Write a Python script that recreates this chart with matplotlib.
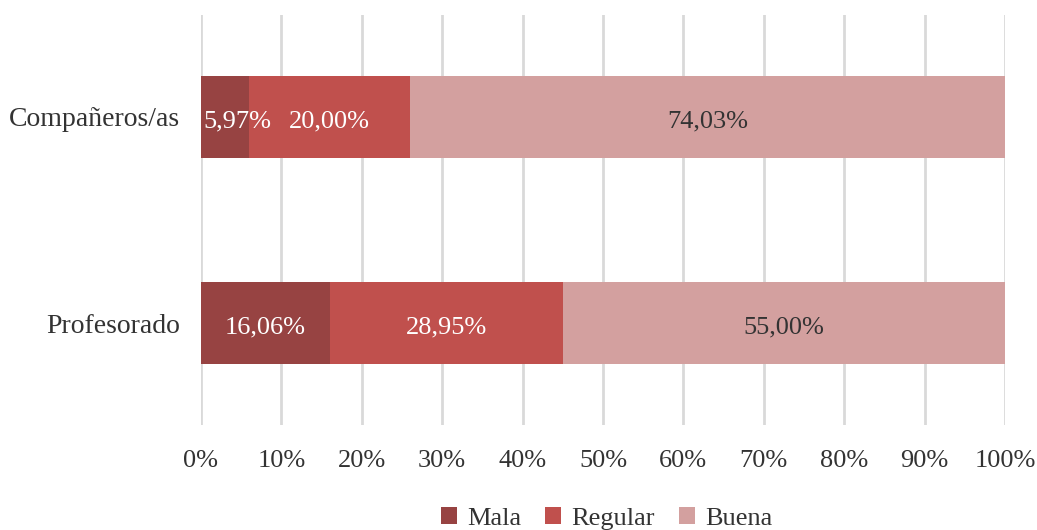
import matplotlib.pyplot as plt
import numpy as np

plt.rcParams['font.family'] = ['Liberation Serif', 'DejaVu Serif']

categories = ['Profesorado', 'Compañeros/as']
series = ['Mala', 'Regular', 'Buena']
mala = [16.06, 5.97]
regular = [28.95, 20.00]
buena = [55.00, 74.03]
colors = ['#974342', '#C0504D', '#D3A09F']
text_colors = ['white', 'white', '#333333']

fig = plt.figure(figsize=(10.37, 5.30), dpi=100)
ax = fig.add_axes([0.1938, 0.198, 0.7753, 0.7737])

y = np.arange(len(categories))
left = np.zeros(len(categories))
for name, vals, col, tcol in zip(series, [mala, regular, buena], colors, text_colors):
    vals = np.array(vals)
    ax.barh(y, vals, left=left, height=0.4, color=col, label=name, zorder=3)
    for yi, l, v in zip(y, left, vals):
        txt = f'{v:.2f}%'.replace('.', ',')
        if v < 8:
            # etiqueta estrecha: se sale de la barra por la derecha
            ax.text(l + 0.3, yi - 0.02, txt, ha='left', va='center', color=tcol, fontsize=19, zorder=4)
        else:
            ax.text(l + v / 2, yi - 0.02, txt, ha='center', va='center', color=tcol, fontsize=19, zorder=4)
    left += vals

ax.set_xlim(0, 100)
ax.set_ylim(-0.495, 1.495)
ax.set_xticks(np.arange(0, 101, 10))
ax.set_xticklabels([f'{t}%' for t in range(0, 101, 10)], fontsize=19, color='#333333')
ax.set_yticks(y)
ax.set_yticklabels(categories, fontsize=20, color='#333333')
ax.tick_params(axis='x', length=0, pad=18)
ax.tick_params(axis='y', length=0, pad=15)
ax.grid(axis='x', color='#D9D9D9', linewidth=2, zorder=0)
for s in ax.spines.values():
    s.set_visible(False)

fig.legend(loc='lower center', bbox_to_anchor=(0.585, -0.045), ncol=3, frameon=False,
           fontsize=19, handlelength=0.6, handleheight=0.6, handletextpad=0.4,
           columnspacing=0.9, labelcolor='#333333')

fig.savefig('out.png', dpi=100)
